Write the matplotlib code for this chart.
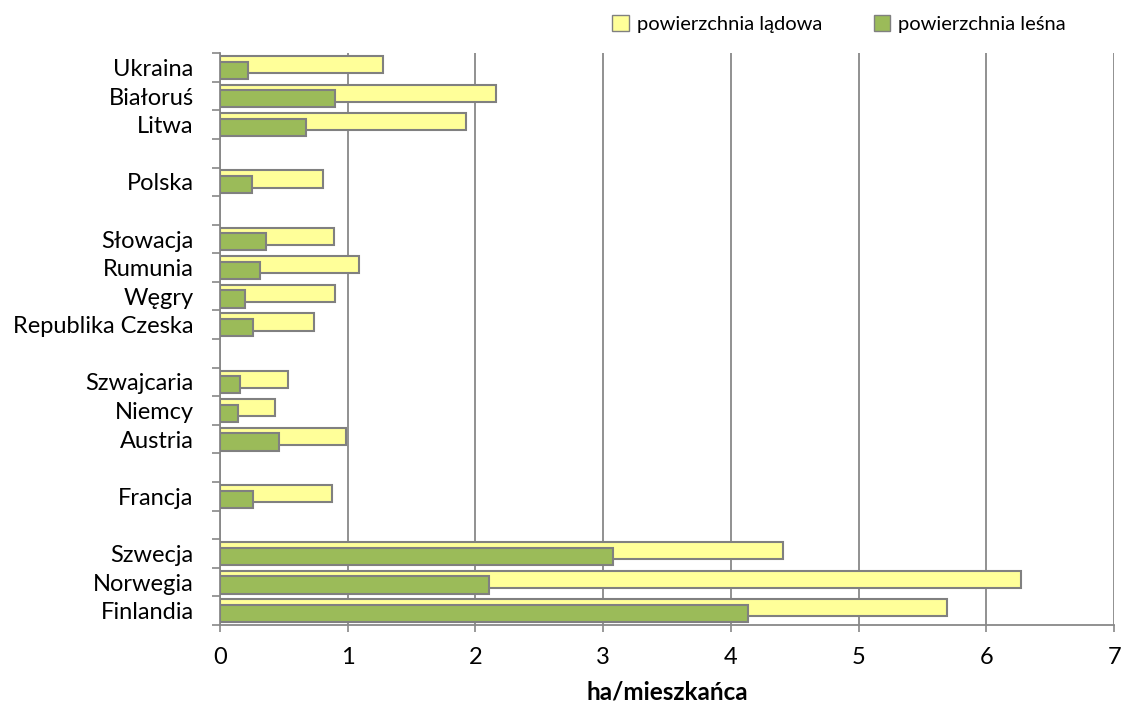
import numpy as np
import matplotlib.pyplot as plt
from matplotlib.patches import Patch

# kategorie od dołu do góry, puste pozycje = odstępy między grupami
countries = ["Finlandia", "Norwegia", "Szwecja", "", "Francja", "",
             "Austria", "Niemcy", "Szwajcaria", "",
             "Republika Czeska", "Węgry", "Rumunia", "Słowacja", "",
             "Polska", "", "Litwa", "Białoruś", "Ukraina"]
land = [5.69, 6.27, 4.41, np.nan, 0.88, np.nan,
        0.99, 0.43, 0.53, np.nan,
        0.74, 0.90, 1.09, 0.89, np.nan,
        0.81, np.nan, 1.93, 2.16, 1.28]
forest = [4.13, 2.11, 3.08, np.nan, 0.26, np.nan,
          0.46, 0.14, 0.16, np.nan,
          0.26, 0.20, 0.31, 0.36, np.nan,
          0.25, np.nan, 0.67, 0.90, 0.22]

YELLOW = "#FFFF99"
GREEN = "#9BBB59"
EDGE = "#808080"
AXC = "#888888"

plt.rcParams['font.family'] = ['Lato', 'DejaVu Sans']

fig = plt.figure(figsize=(11.22, 7.09), dpi=100)
ax = fig.add_axes([0.196, 0.1185, 0.797, 0.8065])

y = np.arange(len(countries))
h = 0.6
ax.barh(y + 0.1, land, height=h, color=YELLOW, edgecolor=EDGE, linewidth=1.5, zorder=3)
ax.barh(y - 0.1, forest, height=h, color=GREEN, edgecolor=EDGE, linewidth=1.5, zorder=4)

ax.set_xlim(0, 7)
ax.set_ylim(-0.5, len(countries) - 0.5)
ax.set_xticks(range(8))
ax.tick_params(axis='x', labelsize=17, length=5, width=1.2, color=AXC, pad=11)
ax.grid(axis='x', color=AXC, linewidth=1.3, zorder=0)

# kreski na granicach kategorii, etykiety w środkach
ax.set_yticks(np.arange(-0.5, len(countries), 1.0))
ax.set_yticklabels([])
ax.tick_params(axis='y', which='major', length=6, width=1.2, color=AXC)
ax.set_yticks(y, minor=True)
ax.set_yticklabels(countries, minor=True)
ax.tick_params(axis='y', which='minor', length=0, labelsize=17, pad=19)

for s in ['top', 'right']:
    ax.spines[s].set_visible(False)
for s in ['left', 'bottom']:
    ax.spines[s].set_color(AXC)
    ax.spines[s].set_linewidth(1.3)

ax.set_xlabel("ha/mieszkańca", fontsize=17.5, fontweight='bold', labelpad=9)

handles = [Patch(facecolor=YELLOW, edgecolor=EDGE, label="powierzchnia lądowa"),
           Patch(facecolor=GREEN, edgecolor=EDGE, label="powierzchnia leśna")]
fig.legend(handles=handles, loc='center', bbox_to_anchor=(0.748, 0.966), ncol=2,
           frameon=False, fontsize=14.5, handlelength=0.8, handleheight=0.8,
           handletextpad=0.4, columnspacing=2.6)

fig.savefig("out.png", dpi=100)
